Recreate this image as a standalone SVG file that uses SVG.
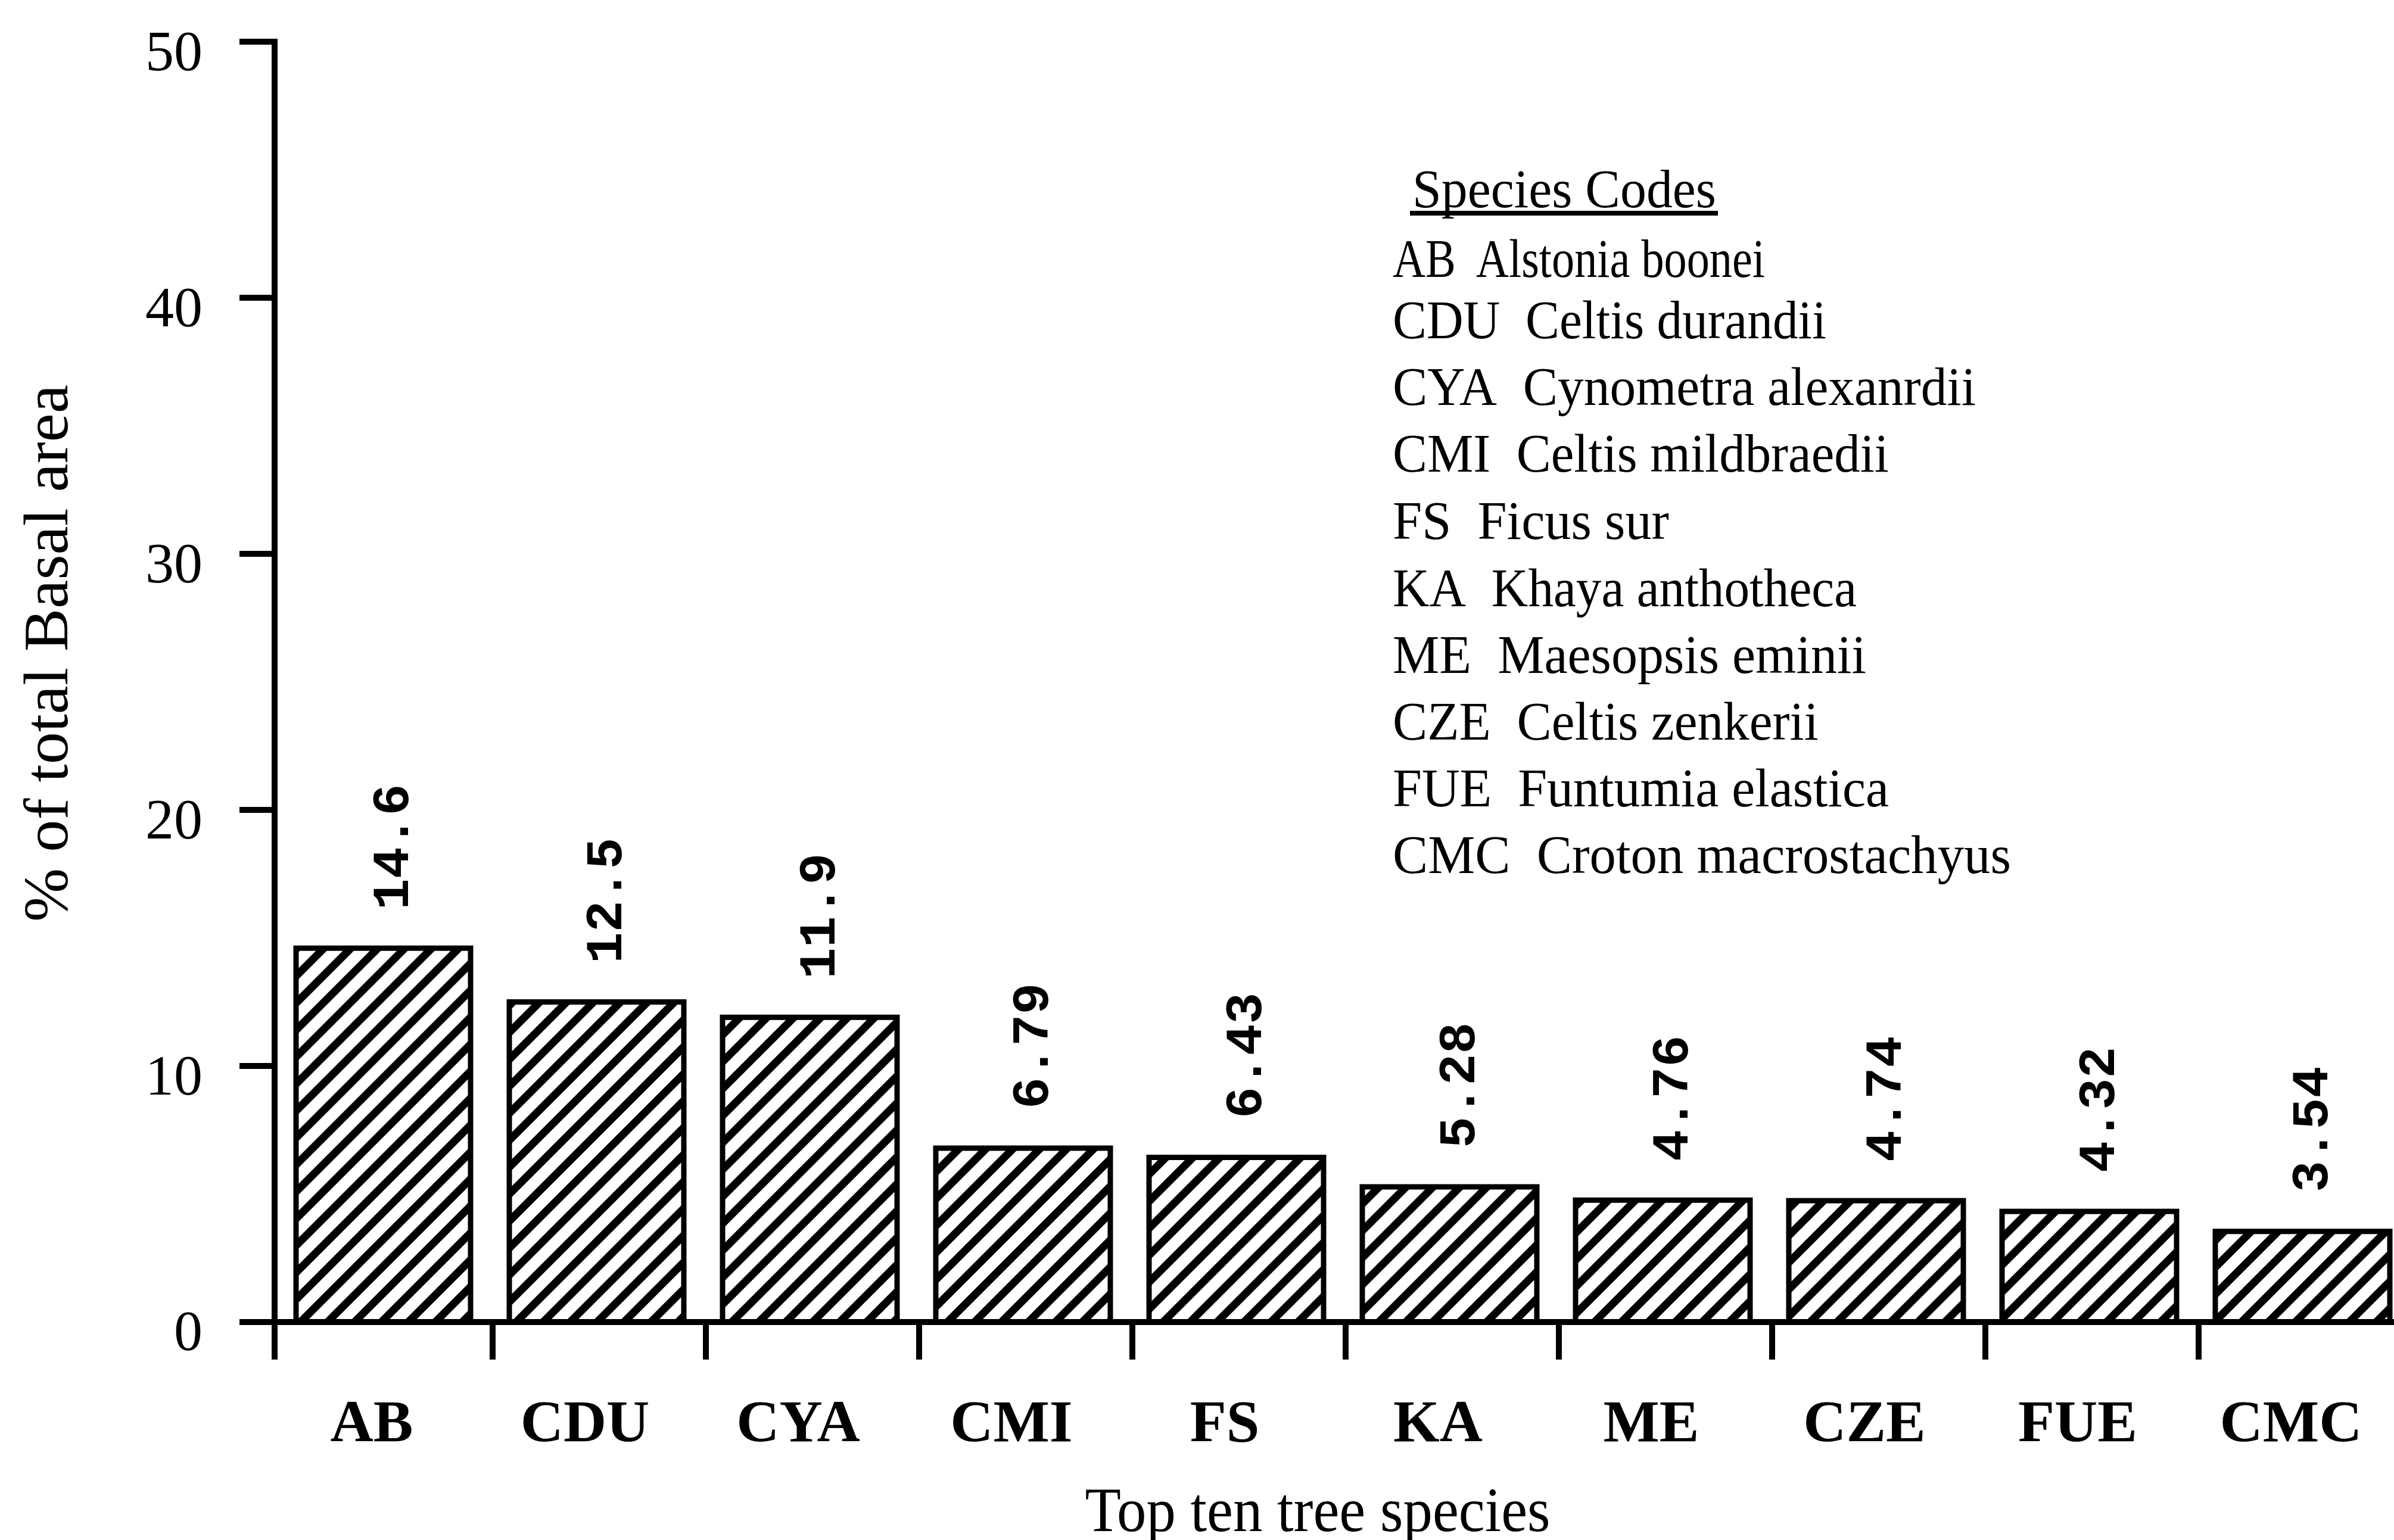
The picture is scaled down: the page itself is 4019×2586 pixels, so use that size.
<svg xmlns="http://www.w3.org/2000/svg" width="4019" height="2586" viewBox="0 0 4019 2586">
<style>
.ax{stroke:#000;stroke-width:10;fill:none;stroke-linecap:butt}
.bar{stroke:#000;stroke-width:9;fill:url(#hatch)}
.tick{font-family:"Liberation Serif","Times New Roman",serif;font-size:96px;fill:#000;text-anchor:end}
.val{font-family:"Liberation Mono","Courier New",monospace;font-weight:bold;font-size:88px;fill:#000}
.cat{font-family:"Liberation Serif","Times New Roman",serif;font-weight:bold;font-size:100px;fill:#000;text-anchor:middle}
.ttl{font-family:"Liberation Serif","Times New Roman",serif;font-size:106px;fill:#000;text-anchor:middle}
.leg{font-family:"Liberation Serif","Times New Roman",serif;font-size:92px;fill:#000}
</style>
<defs>
<pattern id="hatch" patternUnits="userSpaceOnUse" width="32" height="32" patternTransform="rotate(45)">
<rect x="0" y="0" width="32" height="32" fill="#fff"/>
<rect x="0" y="0" width="13" height="32" fill="#000"/>
</pattern>
</defs>
<rect width="4019" height="2586" fill="#fff"/>

<g id="bars">
<g id="bar-AB"><rect class="bar" x="497" y="1592.2" width="293" height="627.8"/><text class="val" transform="translate(684.5,1528) rotate(-90)">14.6</text></g>
<g id="bar-CDU"><rect class="bar" x="855" y="1682.5" width="293" height="537.5"/><text class="val" transform="translate(1042.5,1618) rotate(-90)">12.5</text></g>
<g id="bar-CYA"><rect class="bar" x="1213" y="1708.3" width="293" height="511.7"/><text class="val" transform="translate(1400.5,1644) rotate(-90)">11.9</text></g>
<g id="bar-CMI"><rect class="bar" x="1571" y="1928.0" width="293" height="292.0"/><text class="val" transform="translate(1758.5,1862) rotate(-90)">6.79</text></g>
<g id="bar-FS"><rect class="bar" x="1929" y="1943.5" width="293" height="276.5"/><text class="val" transform="translate(2116.5,1878) rotate(-90)">6.43</text></g>
<g id="bar-KA"><rect class="bar" x="2287" y="1993.0" width="293" height="227.0"/><text class="val" transform="translate(2474.5,1928) rotate(-90)">5.28</text></g>
<g id="bar-ME"><rect class="bar" x="2645" y="2015.3" width="293" height="204.7"/><text class="val" transform="translate(2832.5,1950) rotate(-90)">4.76</text></g>
<g id="bar-CZE"><rect class="bar" x="3003" y="2016.2" width="293" height="203.8"/><text class="val" transform="translate(3190.5,1951) rotate(-90)">4.74</text></g>
<g id="bar-FUE"><rect class="bar" x="3361" y="2034.2" width="293" height="185.8"/><text class="val" transform="translate(3548.5,1969) rotate(-90)">4.32</text></g>
<g id="bar-CMC"><rect class="bar" x="3719" y="2067.8" width="293" height="152.2"/><text class="val" transform="translate(3906.5,2002) rotate(-90)">3.54</text></g>
</g>

<g id="axes">
<path class="ax" d="M461,65 V2283"/>
<path class="ax" d="M402,2220 H4019"/>
<path class="ax" d="M402,70 H461 M402,500 H461 M402,930 H461 M402,1360 H461 M402,1790 H461"/>
<path class="ax" d="M827,2220 V2283 M1185,2220 V2283 M1543,2220 V2283 M1901,2220 V2283 M2259,2220 V2283 M2617,2220 V2283 M2975,2220 V2283 M3333,2220 V2283 M3691,2220 V2283"/>
</g>

<g id="y-ticks">
<text class="tick" x="340" y="118">50</text>
<text class="tick" x="340" y="548">40</text>
<text class="tick" x="340" y="978">30</text>
<text class="tick" x="340" y="1408">20</text>
<text class="tick" x="340" y="1838">10</text>
<text class="tick" x="340" y="2267">0</text>
</g>

<g id="x-labels">
<text class="cat" x="624" y="2420">AB</text>
<text class="cat" x="982" y="2420">CDU</text>
<text class="cat" x="1340" y="2420">CYA</text>
<text class="cat" x="1698" y="2420">CMI</text>
<text class="cat" x="2056" y="2420">FS</text>
<text class="cat" x="2414" y="2420">KA</text>
<text class="cat" x="2772" y="2420">ME</text>
<text class="cat" x="3130" y="2420">CZE</text>
<text class="cat" x="3488" y="2420">FUE</text>
<text class="cat" x="3846" y="2420">CMC</text>
</g>

<g id="titles">
<text class="ttl" x="2212" y="2571" textLength="781" lengthAdjust="spacingAndGlyphs">Top ten tree species</text>
<text class="ttl" transform="translate(113,1097) rotate(-90)" textLength="902" lengthAdjust="spacingAndGlyphs">% of total Basal area</text>
</g>

<g id="legend">
<text class="leg" x="2371" y="348" textLength="510" lengthAdjust="spacingAndGlyphs">Species Codes</text>
<path d="M2367,358 H2884" stroke="#000" stroke-width="8"/>
<text class="leg" x="2338" y="465" textLength="625" lengthAdjust="spacingAndGlyphs">AB&#160; Alstonia boonei</text>
<text class="leg" x="2338" y="568" textLength="728" lengthAdjust="spacingAndGlyphs">CDU&#160; Celtis durandii</text>
<text class="leg" x="2338" y="680" textLength="979" lengthAdjust="spacingAndGlyphs">CYA&#160; Cynometra alexanrdii</text>
<text class="leg" x="2338" y="792" textLength="833" lengthAdjust="spacingAndGlyphs">CMI&#160; Celtis mildbraedii</text>
<text class="leg" x="2338" y="905" textLength="464" lengthAdjust="spacingAndGlyphs">FS&#160; Ficus sur</text>
<text class="leg" x="2338" y="1018" textLength="779" lengthAdjust="spacingAndGlyphs">KA&#160; Khaya anthotheca</text>
<text class="leg" x="2338" y="1130" textLength="795" lengthAdjust="spacingAndGlyphs">ME&#160; Maesopsis eminii</text>
<text class="leg" x="2338" y="1242" textLength="715" lengthAdjust="spacingAndGlyphs">CZE&#160; Celtis zenkerii</text>
<text class="leg" x="2338" y="1354" textLength="833" lengthAdjust="spacingAndGlyphs">FUE&#160; Funtumia elastica</text>
<text class="leg" x="2338" y="1466" textLength="1038" lengthAdjust="spacingAndGlyphs">CMC&#160; Croton macrostachyus</text>
</g>
</svg>
